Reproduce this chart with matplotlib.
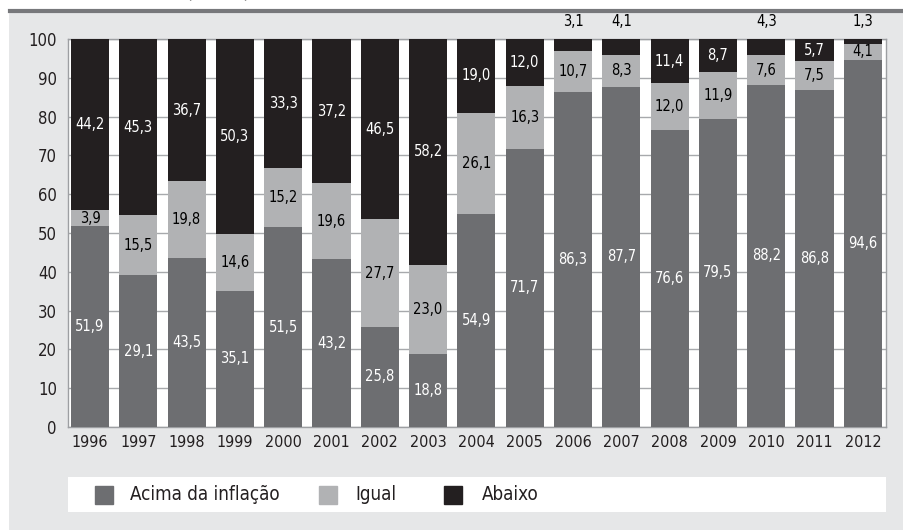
import matplotlib
matplotlib.use("Agg")
import matplotlib.pyplot as plt
from matplotlib.patches import Rectangle

plt.rcParams['font.family'] = ['DejaVu Sans']
plt.rcParams['font.stretch'] = 'condensed'

years = ['1996', '1997', '1998', '1999', '2000', '2001', '2002', '2003', '2004',
         '2005', '2006', '2007', '2008', '2009', '2010', '2011', '2012']
acima = [51.9, 39.1, 43.5, 35.1, 51.5, 43.2, 25.8, 18.8, 54.9,
         71.7, 86.3, 87.7, 76.6, 79.5, 88.2, 86.8, 94.6]
igual = [3.9, 15.5, 19.8, 14.6, 15.2, 19.6, 27.7, 23.0, 26.1,
         16.3, 10.7, 8.3, 12.0, 11.9, 7.6, 7.5, 4.1]
abaixo = [44.2, 45.3, 36.7, 50.3, 33.3, 37.2, 46.5, 58.2, 19.0,
          12.0, 3.1, 4.1, 11.4, 8.7, 4.3, 5.7, 1.3]
# the source prints 29,1 on the 1997 bar although the bar reaches ~39
acima_label_fix = {1: '29,1'}

names = ['Acima da inflação', 'Igual', 'Abaixo']
colors = ['#6d6e71', '#b1b2b4', '#231f20']
text_colors = ['white', 'black', 'white']

fig = plt.figure(figsize=(9.04, 5.30), dpi=100)
fig.patch.set_facecolor('white')

# grey panel and top rule
fig.add_artist(Rectangle((9 / 904, 0), 1, 1 - 12 / 530, transform=fig.transFigure,
                         facecolor='#e6e7e8', edgecolor='none', zorder=0))
fig.add_artist(plt.Line2D([10 / 904, 1], [1 - 11 / 530, 1 - 11 / 530],
                          transform=fig.transFigure, color='#77787b', lw=3, zorder=1))
fig.text(218 / 904, 1 - 1 / 530, '(em %)', ha='center', va='bottom',
         fontsize=14, color='#333333')

ax = fig.add_axes([68 / 904, 1 - 427 / 530, 818 / 904, 388 / 530])
ax.set_facecolor('white')

x = list(range(len(years)))
series = [acima, igual, abaixo]
bottom = [0.0] * len(years)
for k, vals in enumerate(series):
    ax.bar(x, vals, width=0.79, bottom=bottom, color=colors[k], zorder=3)
    for i, v in enumerate(vals):
        lab = f'{v:.1f}'.replace('.', ',')
        if k == 0 and i in acima_label_fix:
            lab = acima_label_fix[i]
        if k == 2 and v < 5:
            ax.text(i, 102.5, lab, ha='center', va='bottom', fontsize=10.5,
                    color='black', clip_on=False)
        else:
            ax.text(i, bottom[i] + v / 2, lab, ha='center', va='center',
                    fontsize=10.5, color=text_colors[k], zorder=4)
    bottom = [b + v for b, v in zip(bottom, vals)]

ax.set_xlim(-0.455, 16.48)
ax.set_ylim(0, 100)
ax.set_yticks(range(0, 101, 10))
ax.set_xticks(x)
ax.set_xticklabels(years)
ax.tick_params(length=0, labelsize=12, colors='#231f20', pad=8)
ax.tick_params(axis='x', labelsize=11.5, pad=6)
ax.yaxis.grid(True, color='#a7a9ac', lw=1, zorder=0)
ax.set_axisbelow(True)
for s in ax.spines.values():
    s.set_color('#9d9fa2')
    s.set_linewidth(1)

# legend strip
lax = fig.add_axes([68 / 904, 1 - 512 / 530, 818 / 904, 35 / 530])
lax.set_xlim(68, 886)
lax.set_ylim(0, 35)
lax.set_facecolor('white')
lax.set_xticks([])
lax.set_yticks([])
for s in lax.spines.values():
    s.set_visible(False)
sq_x = [95, 319, 444]
tx_x = [130, 355, 482]
for k in range(3):
    lax.add_patch(Rectangle((sq_x[k], 8), 18, 18, color=colors[k]))
    lax.text(tx_x[k], 17, names[k], va='center', ha='left', fontsize=13.5,
             color='#231f20')

fig.savefig('out.png', dpi=100)
